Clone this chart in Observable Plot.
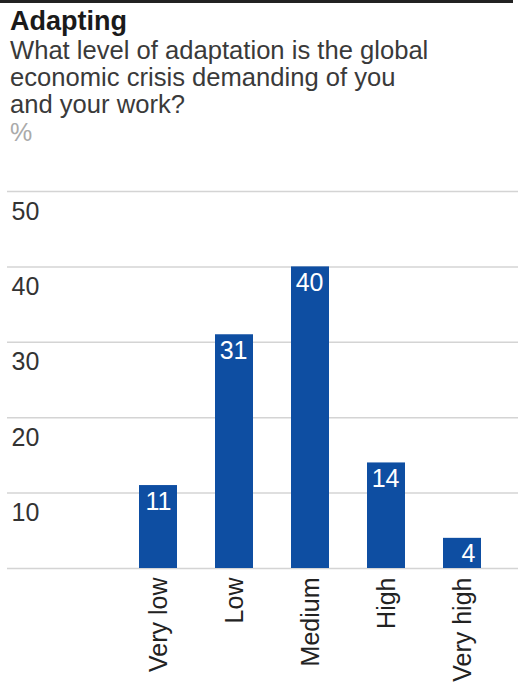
<!DOCTYPE html>
<html><head><meta charset="utf-8">
<script src="https://cdn.jsdelivr.net/npm/d3@7"></script>
<script src="https://cdn.jsdelivr.net/npm/@observablehq/plot@0.6"></script>
<style>
body{margin:0;background:#fff;}
#wrap{position:relative;width:520px;height:688px;font-family:"Liberation Sans",Arial,Helvetica,sans-serif;color:#222;overflow:hidden;background:#fff}
#rule{position:absolute;left:0;top:0;width:513px;height:2.5px;background:#222}
#title{position:absolute;left:10px;top:8px;font-size:27px;line-height:26px;font-weight:bold;color:#1a1a1a;white-space:nowrap}
#sub{position:absolute;left:10px;top:37px;font-size:25.6px;line-height:27px;color:#3a3a3a;white-space:nowrap}
#unit{position:absolute;left:10px;top:119px;font-size:25px;line-height:27px;color:#aaa}
#chart{position:absolute;left:0;top:160px}
</style></head>
<body>
<div id="wrap">
  <div id="rule"></div>
  <div id="title">Adapting</div>
  <div id="sub">What level of adaptation is the global<br>economic crisis demanding of you<br>and your work?</div>
  <div id="unit">%</div>
  <div id="chart"></div>
</div>
<script>
const categories = ["Very low", "Low", "Medium", "High", "Very high"];
const values = [11, 31, 40, 14, 4];
const yTicks = [10, 20, 30, 40, 50];
const gridLines = [0, 10, 20, 30, 40, 50];

const data = categories.map((c, i) => ({cat: c, value: values[i]}));
const font = '"Liberation Sans", Arial, Helvetica, sans-serif';

const chart = Plot.plot({
  width: 520,
  height: 528,
  marginTop: 31,
  marginBottom: 120,
  marginLeft: 7,
  marginRight: 2,
  x: {domain: categories, range: [120, 500], paddingInner: 0.5, paddingOuter: 0.25, axis: null},
  y: {domain: [0, 50], axis: null},
  style: {fontFamily: font, fontSize: "25px", background: "transparent"},
  marks: [
    Plot.ruleY(gridLines, {y: d => d, stroke: "#d4d4d4", strokeWidth: 1.5}),
    Plot.barY(data, {x: "cat", y: "value", fill: "#0e4ea2"}),
    Plot.text(data, {x: "cat", y: "value", text: d => String(d.value), fill: "white",
      textAnchor: "end", lineAnchor: "middle", dx: 13, dy: 16, fontSize: 25}),
    Plot.text(yTicks, {y: d => d, text: d => String(d), frameAnchor: "left", dx: 4, dy: 20,
      textAnchor: "start", lineAnchor: "middle", fill: "#333", fontSize: 25}),
    Plot.text(categories, {x: d => d, text: d => d, frameAnchor: "bottom", rotate: -90,
      textAnchor: "end", lineAnchor: "middle", dy: 9, fill: "#222", fontSize: 25})
  ]
});
document.getElementById("chart").appendChild(chart);
</script>
</body></html>
